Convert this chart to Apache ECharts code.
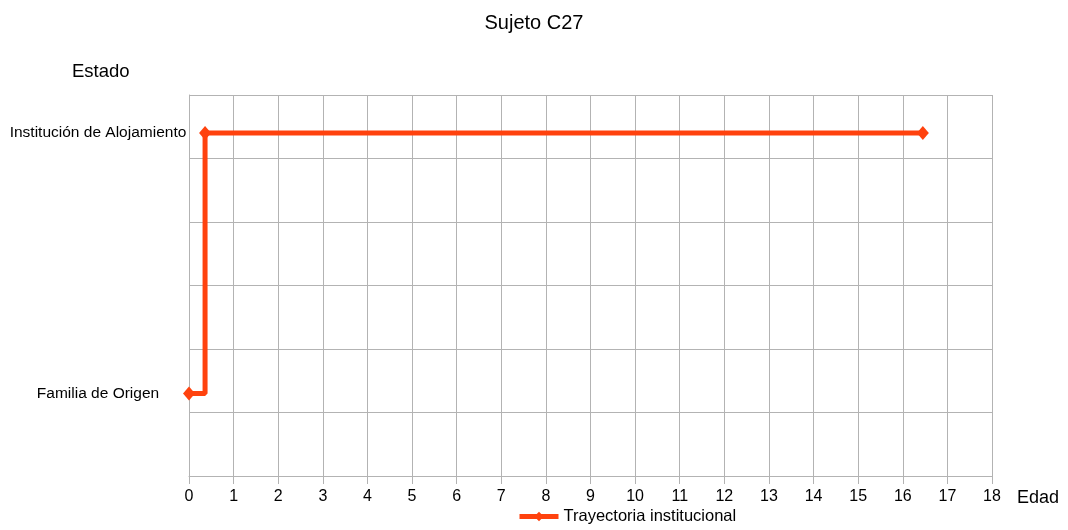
<!DOCTYPE html>
<html>
<head>
<meta charset="utf-8">
<script src="https://cdn.jsdelivr.net/npm/echarts@6/dist/echarts.min.js"></script>
<style>
html,body{margin:0;padding:0;background:#fff;}
#chart{width:1068px;height:530px;}
</style>
</head>
<body>
<div id="chart"></div>
<script>
// Data
var stateNames = ['Familia de Origen', 'Institución de Alojamiento'];
var stateLevels = [1.3, 5.4];
var ages = [0, 0.36, 16.45];
var states = [0, 1, 1]; // index into stateNames
var xTicks = [0,1,2,3,4,5,6,7,8,9,10,11,12,13,14,15,16,17,18];
var seriesName = 'Trayectoria institucional';
var chartTitle = 'Sujeto C27';

var points = ages.map(function (a, i) { return [a, stateLevels[states[i]]]; });

var chart = echarts.init(document.getElementById('chart'));
var font = '"Liberation Sans", Arial, sans-serif';
var grey = '#b3b3b3';
chart.setOption({
  animation: false,
  backgroundColor: '#fff',
  textStyle: { fontFamily: font },
  title: [
    { text: chartTitle, left: 'center', top: 8, textStyle: { fontFamily: font, fontSize: 20, fontWeight: 'normal', color: '#000' } },
    { text: 'Estado', left: 67, top: 57, textStyle: { fontFamily: font, fontSize: 18.5, fontWeight: 'normal', color: '#000' } },
    { text: 'Edad', left: 1012, top: 484, textStyle: { fontFamily: font, fontSize: 18, fontWeight: 'normal', color: '#000' } }
  ],
  legend: {
    bottom: 0,
    left: 512,
    itemWidth: 39,
    itemHeight: 12,
    itemGap: 6,
    lineStyle: { width: 5 },
    textStyle: { fontFamily: font, fontSize: 16.5, color: '#000' },
    data: [seriesName]
  },
  grid: { left: 189, right: 76, top: 95, bottom: 54, containLabel: false },
  xAxis: {
    type: 'value',
    min: 0, max: 18, interval: 1,
    axisLine: { show: true, lineStyle: { color: grey } },
    axisTick: { show: true, length: 8, lineStyle: { color: grey } },
    axisLabel: { fontFamily: font, fontSize: 16, color: '#000', margin: 13,
      formatter: function (v) { return xTicks.indexOf(v) >= 0 ? String(v) : ''; } },
    splitLine: { show: true, lineStyle: { color: grey, width: 1 } }
  },
  yAxis: {
    type: 'value',
    min: 0, max: 6, interval: 1,
    axisLine: { show: true, lineStyle: { color: grey } },
    axisTick: { show: false },
    axisLabel: {
      customValues: stateLevels,
      fontFamily: font, fontSize: 15.5, color: '#000', margin: 91, align: 'center',
      formatter: function (v) {
        var i = stateLevels.indexOf(v);
        return i >= 0 ? stateNames[i] : '';
      }
    },
    splitLine: { show: true, lineStyle: { color: grey, width: 1 } }
  },
  series: [{
    name: seriesName,
    type: 'line',
    step: 'end',
    data: points,
    symbol: 'diamond',
    symbolSize: [12, 14],
    lineStyle: { color: '#ff420e', width: 5 },
    itemStyle: { color: '#ff420e' }
  }]
});
</script>
</body>
</html>
